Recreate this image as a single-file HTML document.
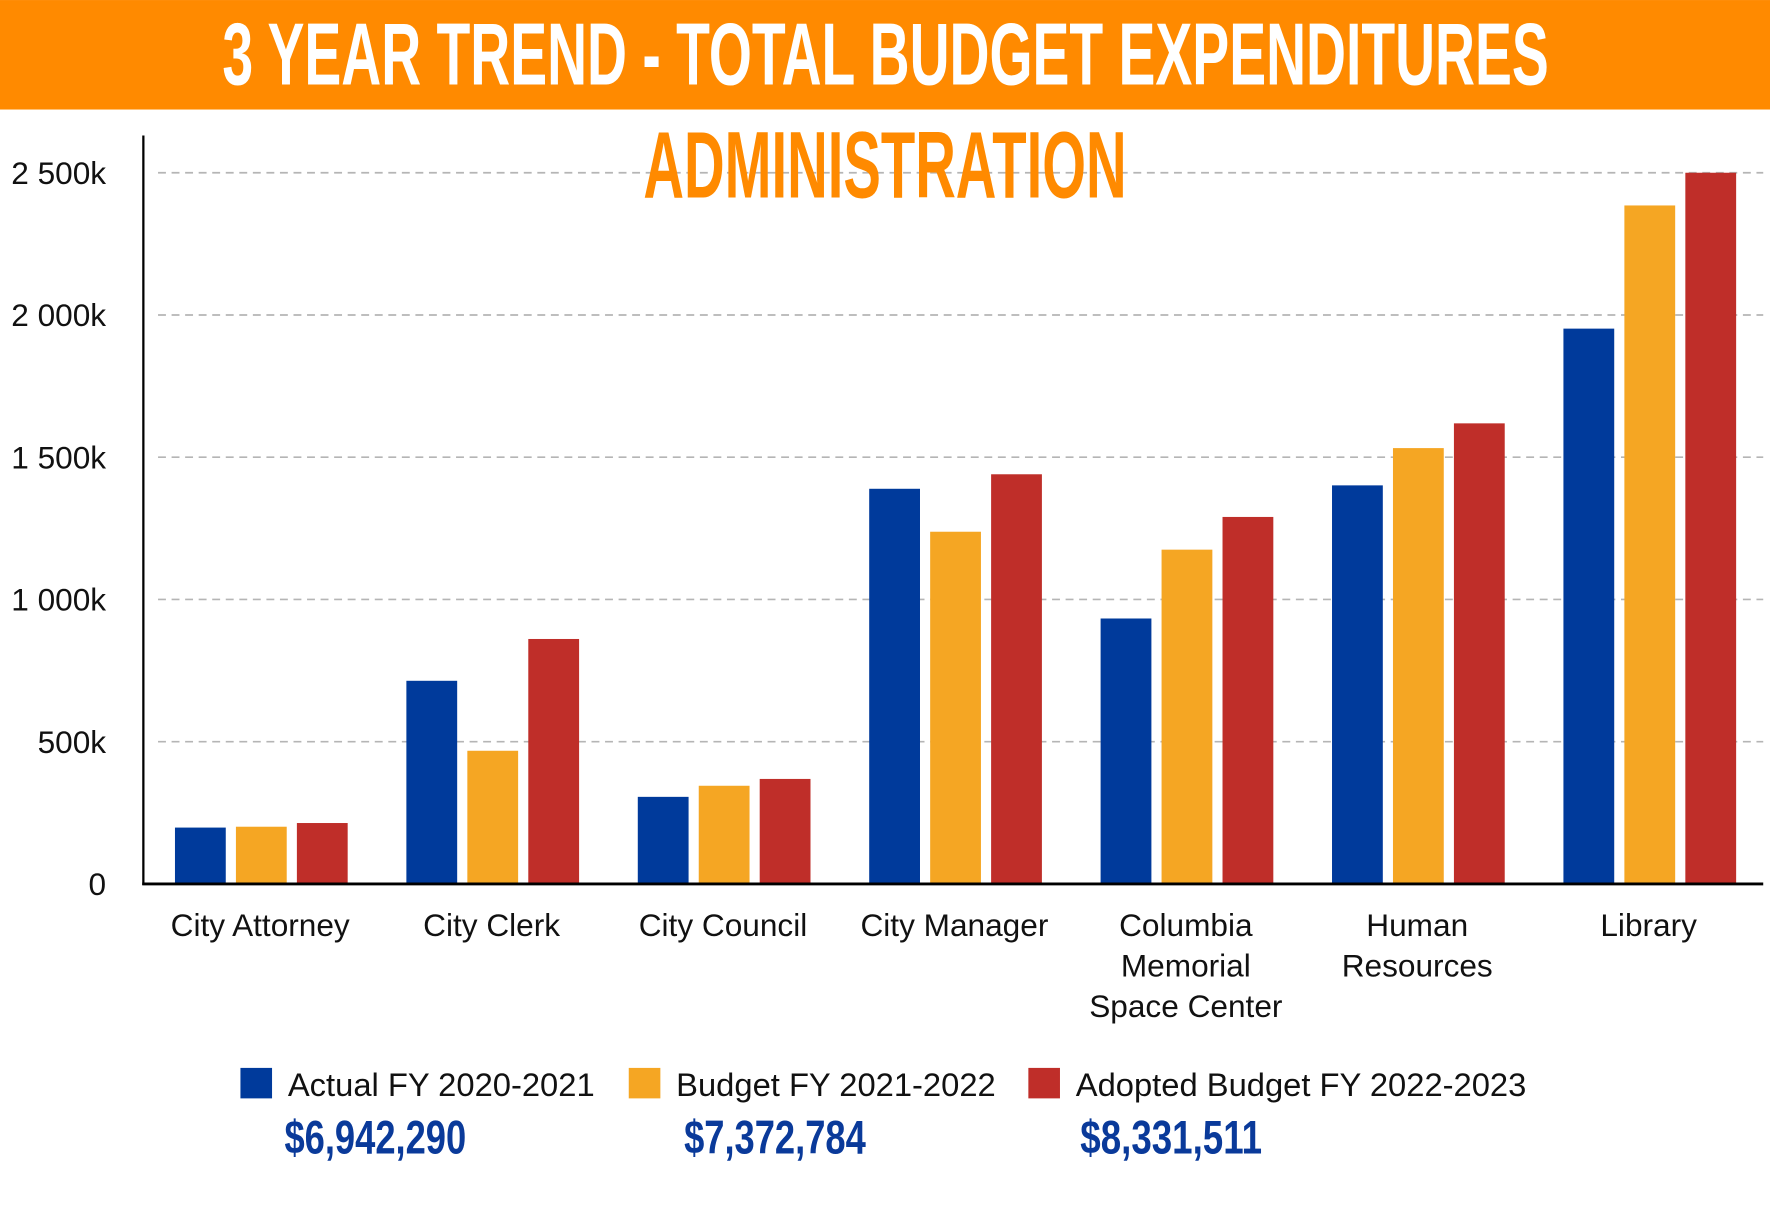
<!DOCTYPE html>
<html><head><meta charset="utf-8"><style>
html,body{margin:0;padding:0;background:#fff;}
svg{display:block;font-family:"Liberation Sans",sans-serif;}
</style></head><body>
<svg id="chart" width="1770" height="1221" viewBox="0 0 1568 1081.6" xmlns="http://www.w3.org/2000/svg">
<rect x="0" y="0" width="1568" height="97" fill="#FF8A00"/>
<text x="197" y="75" font-size="78" font-weight="bold" fill="#fff" textLength="1175" lengthAdjust="spacingAndGlyphs">3 YEAR TREND - TOTAL BUDGET EXPENDITURES</text>
<g id="grid"></g>
<text x="570" y="175" font-size="84" font-weight="bold" fill="#FF8A00" textLength="428" lengthAdjust="spacingAndGlyphs">ADMINISTRATION</text>
<g id="bars"></g>
<line x1="127" y1="120" x2="127" y2="784" stroke="#000" stroke-width="2"/>
<line x1="126" y1="783" x2="1562" y2="783" stroke="#000" stroke-width="2.5"/>
<g id="xlabels"></g>
<g id="legend"></g>
</svg>
<script>
const categories = [["City Attorney"],["City Clerk"],["City Council"],["City Manager"],["Columbia","Memorial","Space Center"],["Human","Resources"],["Library"]];
const actual = [198, 714, 306, 1389, 933, 1401, 1952];
const budget = [201, 468, 345, 1238, 1175, 1532, 2385];
const adopted = [214, 861, 369, 1440, 1290, 1619, 2500];
const yTicks = [0, 500, 1000, 1500, 2000, 2500];
const yTickLabels = ["0", "500k", "1 000k", "1 500k", "2 000k", "2 500k"];
const seriesNames = ["Actual FY 2020-2021", "Budget FY 2021-2022", "Adopted Budget FY 2022-2023"];
const seriesTotals = ["$6,942,290", "$7,372,784", "$8,331,511"];
const colors = ["#003A9B", "#F5A623", "#BF2E29"];
const NS = "http://www.w3.org/2000/svg";
const y = v => 783 - v * 126 / 500;
const band = 205, x0 = 127, bw = 45, gap = 9;
const xBar = (i, s) => x0 + i * band + 28 + s * (bw + gap);
function mk(tag, attrs, parent) { const e = document.createElementNS(NS, tag); for (const k in attrs) e.setAttribute(k, attrs[k]); parent.appendChild(e); return e; }
const grid = document.getElementById('grid');
yTicks.forEach((t, i) => {
  if (t > 0) {
    const l = mk('line', {x1:140, x2:1562, y1:y(t), y2:y(t), stroke:'#b5b5b5', 'stroke-width':1.5, 'stroke-dasharray':'7,5'}, grid);
    
    
  }
  const tx = mk('text', {x:94, y:y(t) + 10, 'font-size':28, 'text-anchor':'end', fill:'#111'}, grid);
  tx.textContent = yTickLabels[i];
  
  
});
const bars = document.getElementById('bars');
[actual, budget, adopted].forEach((ser, s) => {
  ser.forEach((v, i) => {
    const r = mk('rect', {x:xBar(i, s), y:y(v), width:bw, height:783 - y(v), fill:colors[s]}, bars);
    
    
  });
});
const xl = document.getElementById('xlabels');
categories.forEach((lines, i) => {
  const cx = x0 + i * band + band / 2 + 1;
  lines.forEach((ln, j) => {
    const t = mk('text', {x:cx, y:829 + j * 36, 'font-size':28, 'text-anchor':'middle', fill:'#111'}, xl);
    t.textContent = ln;
    
    
  });
});
const lg = document.getElementById('legend');
const lx = [213, 557, 911];
const ax = [252, 606, 957];
seriesNames.forEach((n, s) => {
  const sw = mk('rect', {x:lx[s], y:946, width:28, height:27, fill:colors[s]}, lg);
  
  
  const t = mk('text', {x:lx[s] + 42, y:971, 'font-size':29, fill:'#111'}, lg);
  t.textContent = n;
  
  
  const a = mk('text', {x:ax[s], y:1022, 'font-size':42, 'font-weight':'bold', fill:'#0A3A9A', textLength:161, lengthAdjust:'spacingAndGlyphs'}, lg);
  a.textContent = seriesTotals[s];
  
  
});
</script>
</body></html>
